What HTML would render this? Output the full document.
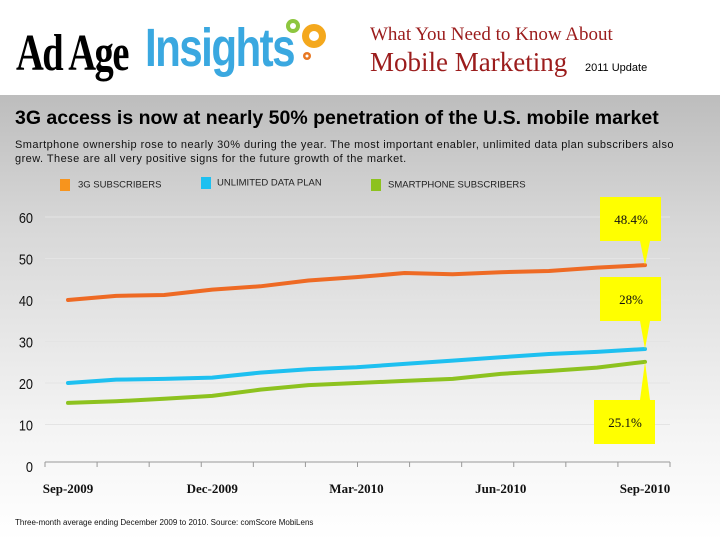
<!DOCTYPE html>
<html><head><meta charset="utf-8"><style>
body{margin:0;width:720px;height:540px;overflow:hidden;font-family:"Liberation Sans",sans-serif;background:#fff;position:relative}
.abs{position:absolute}
</style></head><body>
<div class="abs" style="left:0;top:0;width:720px;height:95px;background:#fff">
 <div class="abs" style="left:16px;top:24px;font-family:'Liberation Serif',serif;font-size:52px;font-weight:bold;letter-spacing:-2px;transform:scaleX(0.74);transform-origin:left;color:#000">Ad Age</div>
 <div class="abs" style="left:145px;top:17px;font-size:54px;font-weight:bold;color:#3aa8e0;letter-spacing:-2px;transform:scaleX(0.78);transform-origin:left">Insights</div>
 <svg class="abs" style="left:283px;top:14px" width="50" height="50">
  <circle cx="10" cy="12" r="7" fill="#8dc63f"/><circle cx="10" cy="12" r="3" fill="#fff"/>
  <circle cx="31" cy="22" r="12" fill="#f4a81d"/><circle cx="31" cy="22" r="5" fill="#fff"/>
  <circle cx="24" cy="42" r="4" fill="#e87722"/><circle cx="24" cy="42" r="1.5" fill="#fff"/>
 </svg>
 <div class="abs" style="left:370px;top:24px;font-family:'Liberation Serif',serif;font-size:19px;color:#9b1c1c">What You Need to Know About</div>
 <div class="abs" style="left:370px;top:47px;font-family:'Liberation Serif',serif;font-size:27px;color:#9b1c1c">Mobile Marketing</div>
 <div class="abs" style="left:585px;top:62px;font-size:11px;color:#000">2011 Update</div>
</div>
<div class="abs" style="left:0;top:95px;width:720px;height:445px;background:linear-gradient(#bdbdbd,#d8d8d8 30%,#f4f4f4 75%,#fff)"></div>
<div class="abs" style="left:15px;top:107px;font-size:19.5px;font-weight:bold;color:#000;white-space:nowrap">3G access is now at nearly 50% penetration of the U.S. mobile market</div>
<div class="abs" style="left:15px;top:138px;width:700px;font-size:11px;line-height:14px;letter-spacing:0.45px;color:#111;white-space:nowrap">Smartphone ownership rose to nearly 30% during the year. The most important enabler, unlimited data plan subscribers also<br>grew. These are all very positive signs for the future growth of the market.</div>
<div class="abs" style="left:60px;top:179px;font-size:9.5px;color:#222"><span style="display:inline-block;width:10px;height:12px;background:#f7941d;vertical-align:middle;margin-right:8px"></span>3G SUBSCRIBERS</div>
<div class="abs" style="left:201px;top:177px;font-size:9.5px;color:#222"><span style="display:inline-block;width:10px;height:12px;background:#1ec0f0;vertical-align:middle;margin-right:6px"></span>UNLIMITED DATA PLAN</div>
<div class="abs" style="left:371px;top:179px;font-size:9.5px;color:#222"><span style="display:inline-block;width:10px;height:12px;background:#8dc21f;vertical-align:middle;margin-right:7px"></span>SMARTPHONE SUBSCRIBERS</div>
<svg id="chart" class="abs" style="left:0;top:0" width="720" height="540"></svg>
<div class="abs" style="left:15px;top:518px;font-size:8px;color:#111">Three-month average ending December 2009 to 2010. Source: comScore MobiLens</div>
<script>
const months=13;
const xLabels=["Sep-2009","Dec-2009","Mar-2010","Jun-2010","Sep-2010"];
const yTicks=[0,10,20,30,40,50,60];
const series3G=[40,41,41.2,42.5,43.3,44.7,45.5,46.5,46.2,46.7,47,47.8,48.4];
const seriesUnlimited=[20,20.8,21,21.3,22.5,23.3,23.8,24.6,25.4,26.2,27,27.5,28.2];
const seriesSmartphone=[15.2,15.6,16.2,16.9,18.4,19.5,20,20.5,21,22.2,22.9,23.7,25.1];
const callouts=["48.4%","28%","25.1%"];
const svg=document.getElementById('chart');
const NS='http://www.w3.org/2000/svg';
const x=i=>68+i*(645-68)/(months-1);
const y=v=>466-v*(466-217)/60;
function mk(t,a){const e=document.createElementNS(NS,t);for(const k in a)e.setAttribute(k,a[k]);svg.appendChild(e);return e;}
yTicks.forEach(v=>{
 if(v>0){const g=mk('line',{x1:45,x2:670,y1:y(v),y2:y(v),stroke:'#e4e4e4','stroke-width':1});
 
 }
 const t=mk('text',{x:33,y:y(v)+6,'text-anchor':'end','font-size':15,fill:'#111','font-family':'Liberation Sans, sans-serif',transform:`translate(33,0) scale(0.85,1) translate(-33,0)`});
 t.textContent=v;
 
 
});
const ax=mk('line',{x1:45,x2:670,y1:462,y2:462,stroke:'#999','stroke-width':1});


for(let i=0;i<=months;i++){const tx=45+i*(625/12);if(tx<=671){const tk=mk('line',{x1:tx,x2:tx,y1:462,y2:467,stroke:'#999'});
 
 }}
xLabels.forEach((l,j)=>{const t=mk('text',{x:x(j*3),y:493,'text-anchor':'middle','font-size':13,'font-weight':'bold',fill:'#111','font-family':'Liberation Serif, serif'});
 t.textContent=l;
 
 });
[[series3G,'#ee6a24','series-3g'],[seriesUnlimited,'#1ec0f0','series-unlimited'],[seriesSmartphone,'#8dc21f','series-smartphone']].forEach(([d,c,n])=>{
 const p=mk('polyline',{points:d.map((v,i)=>x(i)+','+y(v)).join(' '),fill:'none',stroke:c,'stroke-width':4,'stroke-linejoin':'round','stroke-linecap':'round'});
 
 
});
const last=months-1;
const boxes=[[series3G,600,197,callouts[0]],[seriesUnlimited,600,277,callouts[1]],[seriesSmartphone,594,400,callouts[2]]];
boxes.forEach(([d,bx,by,lab],k)=>{
 const px=x(last),py=y(d[last]);
 const tip=by<py?by+44:by;
 const pl=mk('polygon',{points:`${px-5},${tip} ${px+5},${tip} ${px},${py}`,fill:'#ffff00'});
 
 
 const r=mk('rect',{x:bx,y:by,width:61,height:44,fill:'#ffff00'});
 
 
 const t=mk('text',{x:bx+31,y:by+27,'text-anchor':'middle','font-size':13,fill:'#111','font-family':'Liberation Serif, serif'});
 t.textContent=lab;
 
 
});
</script>
</body></html>
